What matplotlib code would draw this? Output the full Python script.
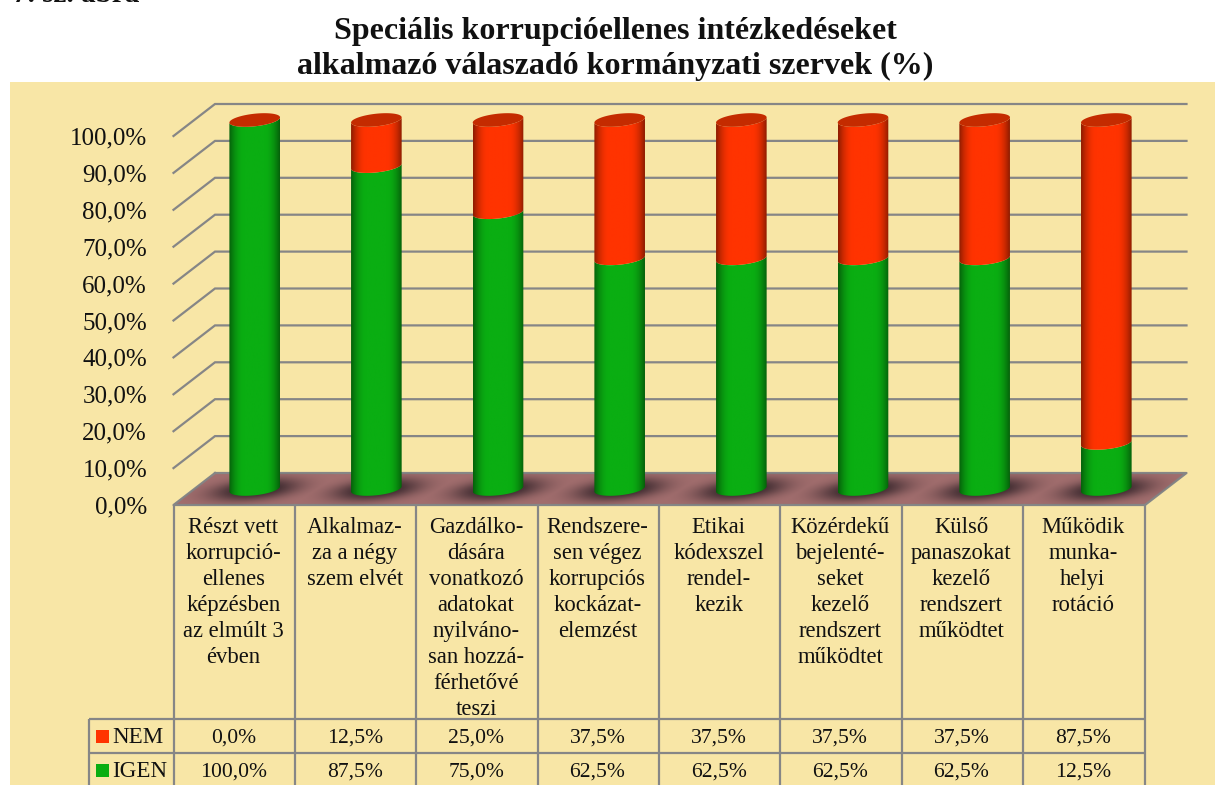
import numpy as np
import matplotlib
matplotlib.use("Agg")
import matplotlib.pyplot as plt
from matplotlib.patches import Polygon, Rectangle
from matplotlib.colors import to_rgb

categories = [
    "Részt vett\nkorrupció-\nellenes\nképzésben\naz elmúlt 3\névben",
    "Alkalmaz-\nza a négy\nszem elvét",
    "Gazdálko-\ndására\nvonatkozó\nadatokat\nnyilváno-\nsan hozzá-\nférhetővé\nteszi",
    "Rendszere-\nsen végez\nkorrupciós\nkockázat-\nelemzést",
    "Etikai\nkódexszel\nrendel-\nkezik",
    "Közérdekű\nbejelenté-\nseket\nkezelő\nrendszert\nműködtet",
    "Külső\npanaszokat\nkezelő\nrendszert\nműködtet",
    "Működik\nmunka-\nhelyi\nrotáció",
]
nem = [0.0, 12.5, 25.0, 37.5, 37.5, 37.5, 37.5, 87.5]
igen = [100.0, 87.5, 75.0, 62.5, 62.5, 62.5, 62.5, 12.5]
yticks = [0, 10, 20, 30, 40, 50, 60, 70, 80, 90, 100]
title = "Speciális korrupcióellenes intézkedéseket\nalkalmazó válaszadó kormányzati szervek (%)"
series_names = ["NEM", "IGEN"]

W, H = 1215, 785
BG = "#F8E6A6"; GRID = "#868686"; FLOOR = "#A26E6E"
GREEN = "#0AAE12"; RED = "#FF3300"; CAP = "#C42B00"
SERIF = "Liberation Serif"
plt.rcParams["font.family"] = SERIF

fig = plt.figure(figsize=(W / 100, H / 100), dpi=100, facecolor="white")

# page layer in pixel units
page = fig.add_axes([0, 0, 1, 1], zorder=0)
page.set_xlim(0, W); page.set_ylim(H, 0); page.axis("off")
page.add_patch(Rectangle((10, 82), W - 10, H - 82, fc=BG, ec="none"))
page.text(13, 2, "7. sz. ábra", fontsize=21, fontweight="bold", ha="left", va="baseline", color="#111111")
page.text(615, 49, title, fontsize=23, fontweight="bold", ha="center", va="center",
          linespacing=1.27, color="#111111")

# chart axes: front plane of the 3D box
PX_L, PX_R, PX_B, PX_T = 173.5, 1145.0, 505.0, 136.0
BAR0, STEP = 254.7, 121.66
ax = fig.add_axes([PX_L / W, 1 - PX_B / H, (PX_R - PX_L) / W, (PX_B - PX_T) / H], zorder=1)
ax.set_xlim((PX_L - BAR0) / STEP, (PX_R - BAR0) / STEP)
ax.set_ylim(0, 100)
ax.patch.set_alpha(0)
for s in ax.spines.values():
    s.set_visible(False)
ax.set_xticks([])
ax.set_yticks(yticks)
ax.set_yticklabels([f"{v:.1f}%".replace(".", ",") for v in yticks], fontsize=18, color="#111111")
ax.tick_params(axis="y", length=0, pad=19)

px_x = 1 / STEP
px_y = 100 / (PX_B - PX_T)
dx, dy = 41.5 * px_x, 32 * px_y
xl, xr = ax.get_xlim()
LW = 1.6

# walls
for v in yticks[1:]:
    ax.plot([xl, xl + dx, xr + dx], [v, v + dy, v + dy], color=GRID, lw=LW, clip_on=False,
            solid_joinstyle="miter", zorder=2)
# floor
floor = Polygon([[xl, 0], [xl + dx, dy], [xr + dx, dy], [xr, 0]], closed=True, fc=FLOOR,
                ec="none", clip_on=False, zorder=3)
ax.add_patch(floor)
ax.plot([xl + dx, xl, xr, xr + dx, xl + dx], [dy, 0, 0, dy, dy], color=GRID, lw=LW, clip_on=False, zorder=4)

# bar shadows
gx = np.linspace(xl, xr + dx, 1400)
gy = np.linspace(0, dy, 60)
X, Y = np.meshgrid(gx, gy)
alpha = np.zeros_like(X)
for i in range(len(categories)):
    ex = (X - i) / (44 * px_x)
    ey = (Y - dy / 2 + 0.5 * px_y - 0.1 * (X - i) / px_x * px_y) / (10.5 * px_y)
    alpha = np.maximum(alpha, np.exp(-(ex ** 2 + ey ** 2) ** 1.3))
shadow = np.zeros(X.shape + (4,))
shadow[..., :3] = to_rgb("#2E2026")
shadow[..., 3] = alpha * 0.95
im = ax.imshow(shadow, extent=(gx[0], gx[-1], 0, dy), origin="lower", aspect="auto", zorder=5,
               interpolation="bilinear")
im.set_clip_box(fig.bbox)
im.set_clip_path(floor)

# cylinders
A, B, TILT = 25.3 * px_x, 6.3 * px_y, 2.6 * px_y
BASE = dy / 2
t_front = np.linspace(np.pi, 2 * np.pi, 50)
t_full = np.linspace(0, 2 * np.pi, 100)


def arc(i, level, t):
    return np.c_[i + A * np.cos(t), level + B * np.sin(t) + TILT * np.cos(t)]


def gradient(colour):
    c = np.array(to_rgb(colour))
    s = np.linspace(-1, 1, 128)
    shade = 1 - 0.45 * np.clip((np.abs(s) - 0.4) / 0.6, 0, 1) ** 2
    return (c[None, :] * shade[:, None])[None, :, :]


def segment(i, lo, hi, colour, z):
    outline = np.vstack([arc(i, lo, t_front), arc(i, hi, t_front)[::-1]])
    poly = Polygon(outline, closed=True, fc="none", ec="none", clip_on=False)
    ax.add_patch(poly)
    ymin, ymax = outline[:, 1].min(), outline[:, 1].max()
    im = ax.imshow(gradient(colour), extent=(i - A, i + A, ymin, ymax), aspect="auto",
                   zorder=z, interpolation="bilinear")
    im.set_clip_box(fig.bbox)
    im.set_clip_path(poly)


for i, (g, r) in enumerate(zip(igen, nem)):
    top_g = BASE + g
    top_r = top_g + r
    segment(i, BASE, top_g, GREEN, 6)
    if r > 0:
        segment(i, top_g, top_r, RED, 7)
    ax.add_patch(Polygon(arc(i, top_r, t_full), closed=True, fc=CAP, ec="none", zorder=8, clip_on=False))

ax.set_xlim(xl, xr); ax.set_ylim(0, 100)

# data table
table_x = np.linspace(173.7, 1144.5, len(categories) + 1)
rows_y = [719, 753]
kw = dict(color=GRID, lw=LW, solid_capstyle="butt")
for x in table_x:
    page.plot([x, x], [505, H], **kw)
page.plot([88.5, 88.5], [719, H], **kw)
for y in rows_y:
    page.plot([88.5, table_x[-1]], [y, y], **kw)
centres = (table_x[:-1] + table_x[1:]) / 2
for c, label, n, g in zip(centres, categories, nem, igen):
    page.text(c - 1, 517, label, fontsize=16.3, ha="center", va="top", linespacing=1.31, color="#111111")
    page.text(c - 1, 738.5, f"{n:.1f}%".replace(".", ","), fontsize=15.6, ha="center", va="center", color="#111111")
    page.text(c - 1, 772.5, f"{g:.1f}%".replace(".", ","), fontsize=15.6, ha="center", va="center", color="#111111")
for name, col, yc in zip(series_names, [RED, GREEN], [736.4, 770.4]):
    page.add_patch(Rectangle((96, yc - 6.4), 13, 12.8, fc=col, ec="none"))
    page.text(112, yc + 1, name, fontsize=16.6, ha="left", va="center", color="#111111")

fig.savefig("out.png", dpi=100)
